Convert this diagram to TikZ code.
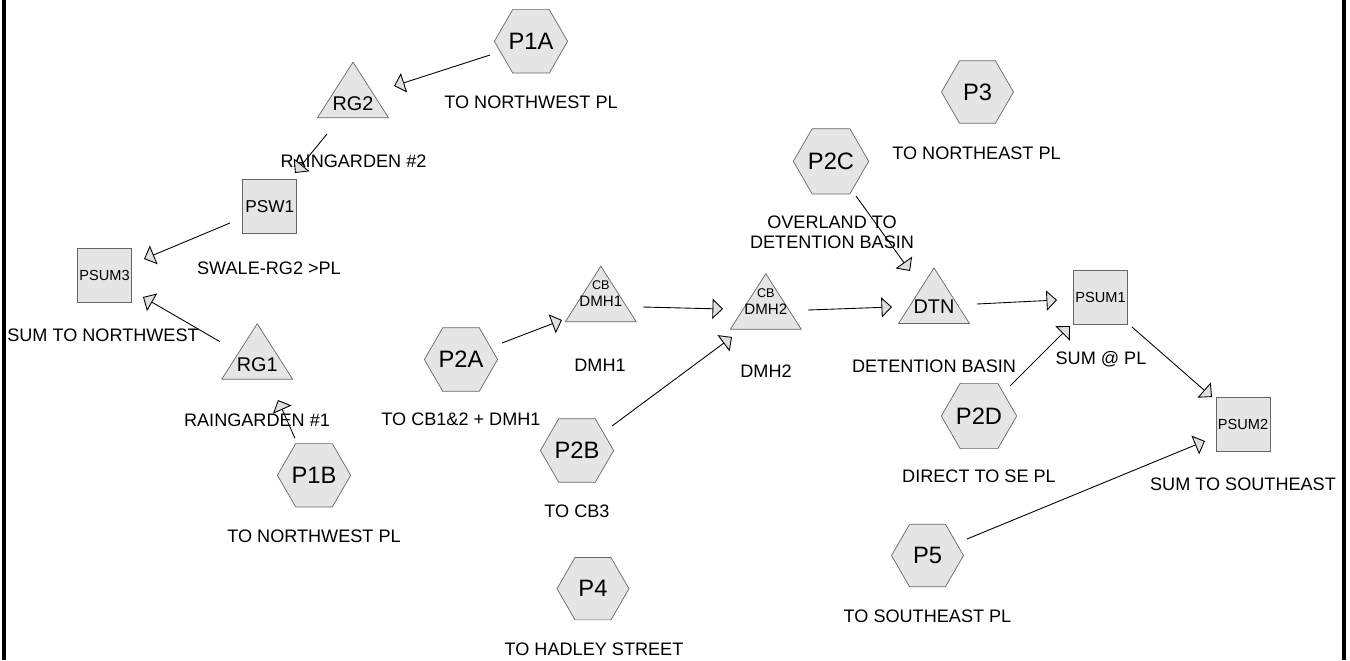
\documentclass[tikz,border=0pt]{standalone}
\usepackage{fontspec}
\setmainfont{Liberation Sans}
\usetikzlibrary{shapes.geometric,arrows.meta,calc}

\newcommand{\hexsize}{1.44cm}
\newcommand{\boxsize}{1.08cm}

\tikzset{
  subcat/.style={regular polygon, regular polygon sides=6, minimum size=\hexsize,
    inner sep=0pt, draw=black!60, fill=gray!20, font=\fontsize{13.5}{15}\selectfont},
  link/.style={rectangle, minimum size=\boxsize, inner sep=0pt,
    draw=black!60, fill=gray!20, font=\fontsize{8.3}{9.8}\selectfont},
  pond/.style={rectangle, minimum width=1.44cm, minimum height=1.14cm, inner sep=0pt,
    font=\fontsize{11.3}{13}\selectfont, text height=23.4pt, text depth=0pt,
    path picture={\draw[draw=black!60, fill=gray!20, line join=round]
      ([shift={(.3pt,.3pt)}]path picture bounding box.south west) --
      ([shift={(-.3pt,.3pt)}]path picture bounding box.south east) --
      ([yshift=-.5pt]path picture bounding box.north) -- cycle;}},
  catch/.style={pond, text height={}, text depth={}, align=center,
    font=\fontsize{8.6}{9.9}\selectfont},
  tag/.style={font=\fontsize{10.3}{11.3}\selectfont, inner sep=0pt,
    text height=7.4pt, text depth=0pt},
  flow/.style={-{Triangle[length=6pt, width=11.5pt, fill=gray!25]}, line width=0.5pt}
}

\begin{document}
\begin{tikzpicture}[x=0.02cm, y=-0.02cm]
  \useasboundingbox (0,0) rectangle (1350,660);
  \draw[line width=0.09cm] (3.75,0) -- (3.75,660) (1344,0) -- (1344,660);

  % subcatchments
  \foreach \name/\x/\y in {P1A/531/41.3, P3/977.5/92, P2C/831/161.3, P2A/461/359.5,
      P2B/577/450.5, P1B/314/475.3, P2D/979/416, P5/927.5/555.5, P4/593/588.7}
    \node[subcat] (\name) at (\x,\y) {\name};

  % ponds
  \node[pond] (RG2) at (353,89.7) {RG2};
  \node[pond] (RG1) at (257.2,351.3) {RG1};
  \node[pond, text height=20pt] (DTN) at (934,295.5) {DTN};
  \node[catch] (DMH1) at (600.8,293.8) {{\fontsize{7.2}{8}\selectfont CB}\\DMH1};
  \node[catch] (DMH2) at (765.8,301.3) {{\fontsize{7.2}{8}\selectfont CB}\\DMH2};

  % links
  \node[link, font=\fontsize{9.8}{11}\selectfont] (PSW1) at (269.7,206.7) {PSW1};
  \foreach \name/\x/\y in {PSUM3/104.5/275.8, PSUM1/1100.5/297.5, PSUM2/1243/424.2}
    \node[link] (\name) at (\x,\y) {\name};

  % captions
  \foreach \name/\x/\y/\txt in {P1A/531/101.5/TO NORTHWEST PL,
      RG2/353.5/161/RAINGARDEN \#2, PSW1/269/267.5/SWALE-RG2 >PL,
      PSUM3/103/335/SUM TO NORTHWEST, RG1/257/420/RAINGARDEN \#1,
      P1B/314/535.5/TO NORTHWEST PL, P2A/461/419/TO CB1\&2 + DMH1,
      DMH1/600/365/DMH1, DMH2/766/371/DMH2, P2B/577/510.5/TO CB3,
      P4/594/648.5/TO HADLEY STREET, P3/976.5/152.5/TO NORTHEAST PL,
      DTN/934/366/DETENTION BASIN, PSUM1/1101/358/SUM @ PL,
      P2D/979/476/DIRECT TO SE PL, PSUM2/1243/483.5/SUM TO SOUTHEAST,
      P5/927.5/615.5/TO SOUTHEAST PL}
    \node[tag] (\name-tag) at (\x,\y) {\txt};
  \node[tag, text height={}, text depth={}, align=center] (P2C-tag) at (832,232)
    {OVERLAND TO\\DETENTION BASIN};

  % routing
  \foreach \a/\ax/\ay/\b/\bx/\by in {
      P1A/-41/13.7/RG2/41/-3.7, RG2/-26/44.3/PSW1/25.3/-33.7,
      PSW1/-39.7/16.3/PSUM3/39.5/-16.8, RG1/-37.2/-9.6/PSUM3/38.5/21.2,
      P1B/-19/-37/RG1/20.8/48.7, P2A/41/-16.5/DMH1/-38.8/26.2,
      DMH1/42.2/13.2/DMH2/-42.8/7.7, P2B/35/-24.5/DMH2/-33.8/35.7,
      DMH2/42.2/8.7/DTN/-42/11.5, P2C/25/34.7/DTN/-24/-24.5,
      DTN/43/8.5/PSUM1/-43.5/2.5, P2D/31/-30/PSUM1/-30.5/28.5,
      PSUM1/31.5/29.5/PSUM2/-31/-27.2, P5/39.5/-16.5/PSUM2/-38/16.8}
    \draw[flow] ($(\a.center)+(\ax,\ay)$) -- ($(\b.center)+(\bx,\by)$);
\end{tikzpicture}
\end{document}
